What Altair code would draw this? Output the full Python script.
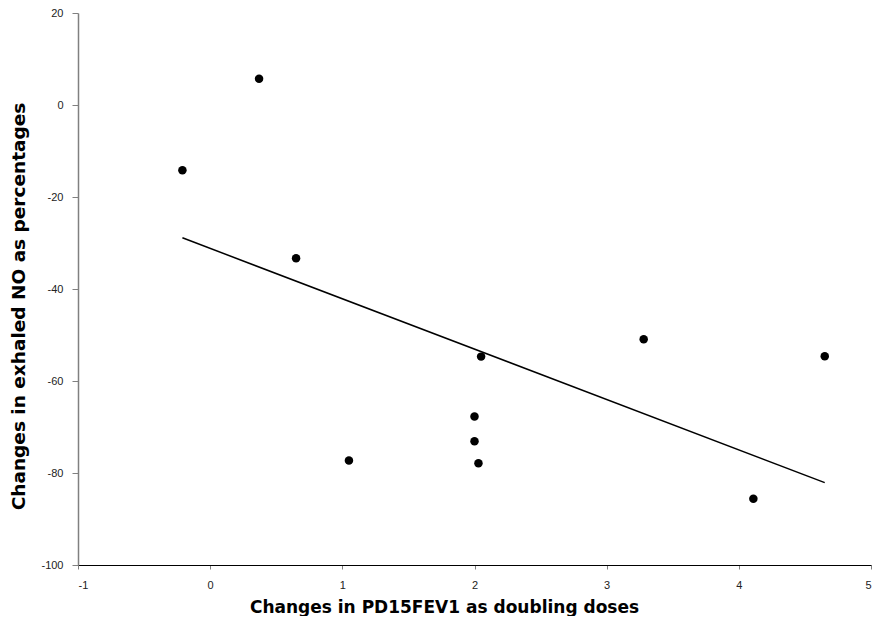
import altair as alt
import pandas as pd

pd15fev1_change = [-0.21, 0.37, 0.65, 2.05, 2.00, 2.00, 2.03, 1.05, 3.28, 4.65, 4.11]
exhaled_no_change = [-14.2, 5.7, -33.3, -54.7, -67.7, -73.1, -77.9, -77.3, -50.9, -54.6, -85.6]
x_ticks = [-1, 0, 1, 2, 3, 4, 5]
y_ticks = [-100, -80, -60, -40, -20, 0, 20]

df = pd.DataFrame({"x": pd15fev1_change, "y": exhaled_no_change})

x_title = "Changes in PD15FEV1 as doubling doses"
y_title = "Changes in exhaled NO as percentages"

xscale = alt.Scale(domain=[-1, 5], nice=False, zero=False)
yscale = alt.Scale(domain=[-100, 20], nice=False, zero=False)

xaxis = alt.Axis(
    values=x_ticks, title=x_title, grid=False,
    labelExpr="'' + datum.value",
    domainColor="#000000", domainWidth=1.2,
    tickColor="#808080", tickSize=4,
    labelFont="Liberation Sans", labelFontSize=11, labelColor="#222222", labelPadding=10,
    titleFont="DejaVu Sans", titleFontSize=17, titleFontWeight="bold", titleColor="#000000",
    titleX=366, titleY=47, titleBaseline="alphabetic", titleAnchor="middle", titleAlign="center",
)
yaxis = alt.Axis(
    values=y_ticks, title=y_title, grid=False,
    labelExpr="'' + datum.value",
    domainColor="#808080", domainWidth=1.5,
    tickColor="#808080", tickSize=6,
    labelFont="Liberation Sans", labelFontSize=11, labelColor="#222222", labelPadding=9,
    titleFont="DejaVu Sans", titleFontSize=18.5, titleFontWeight="bold", titleColor="#000000",
    titleX=-54, titleY=293, titleBaseline="alphabetic", titleAngle=-90, titleAlign="center",
)

points = alt.Chart(df).mark_circle(size=72, color="#000000", opacity=1).encode(
    x=alt.X("x:Q", scale=xscale, axis=xaxis),
    y=alt.Y("y:Q", scale=yscale, axis=yaxis),
)

trend = alt.Chart(df).transform_regression("x", "y").mark_line(
    color="#000000", strokeWidth=1.5
).encode(
    x=alt.X("x:Q", scale=xscale),
    y=alt.Y("y:Q", scale=yscale),
)

chart = alt.layer(points, trend).properties(
    width=793, height=552,
    autosize=alt.AutoSizeParams(type="none"),
    padding={"left": 70, "top": 5, "right": 4, "bottom": 51},
    background="#ffffff",
).configure_view(stroke=None)

chart.save("out.html", embed_options={"renderer": "svg", "actions": False})
